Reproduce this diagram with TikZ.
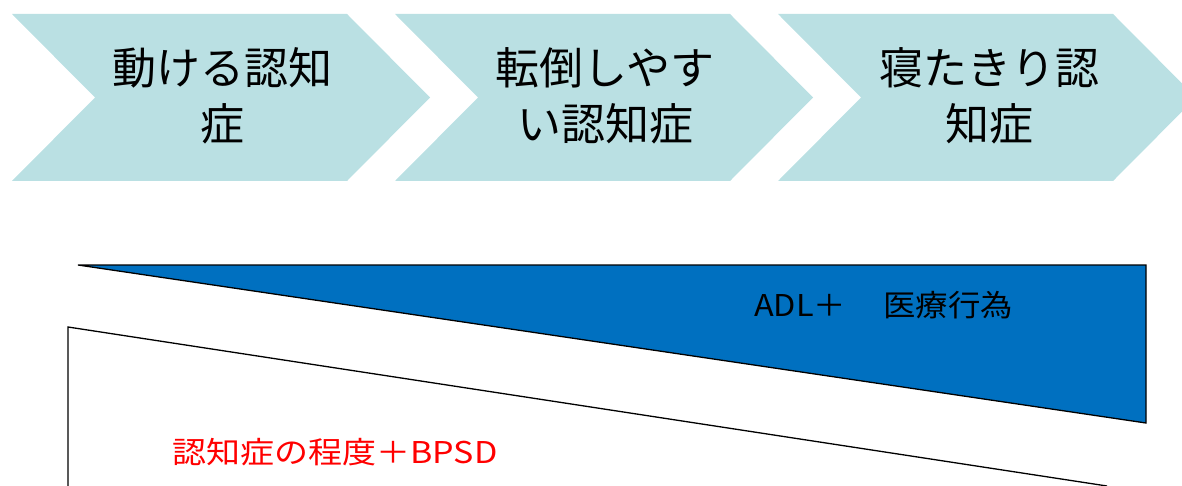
\documentclass[tikz,border=0pt]{standalone}
\usepackage{fontspec}
\newfontfamily\jp{Noto Sans CJK JP}
\definecolor{chev}{RGB}{186,224,227}
\definecolor{adlblue}{RGB}{0,112,192}
\definecolor{bpsdred}{RGB}{255,0,0}
\tikzset{
  chevron/.style={fill=chev, draw=none},
  chevtext/.style={font=\jp\fontsize{44}{56}\selectfont, align=center, inner sep=0pt, text=black},
  band/.style={draw=black, line width=1.3pt},
  labeltext/.style={font=\jp\fontsize{30}{34}\selectfont, inner sep=0pt, anchor=west, xscale=1.08}
}
\begin{document}
\begin{tikzpicture}[x=1pt,y=-1pt]
\useasboundingbox (0,0) rectangle (1182,486);
% chevrons
\foreach \dx in {0,383,766}{
  \fill[chevron] (12+\dx,14) -- (347+\dx,14) -- (430+\dx,97.5) -- (347+\dx,181) -- (12+\dx,181) -- (95+\dx,97.5) -- cycle;
}
\node[chevtext] (c1) at (222,96) {動ける認知\\症};
\node[chevtext] (c2) at (605,96) {転倒しやす\\い認知症};
\node[chevtext] (c3) at (989,96) {寝たきり認\\知症};
% blue triangle
\filldraw[band, fill=adlblue] (78,265) -- (1146,265) -- (1146,423) -- cycle;
% white band
\draw[band] (68,486) -- (68,327) -- (1107,486);
% labels
\node[labeltext] (adl) at (754,305) {ADL＋\hspace{0.15em}　医療行為};
\node[labeltext, text=bpsdred, xscale=1.05] (bpsd) at (172,452) {認知症の程度＋BPSD};
\end{tikzpicture}
\end{document}
